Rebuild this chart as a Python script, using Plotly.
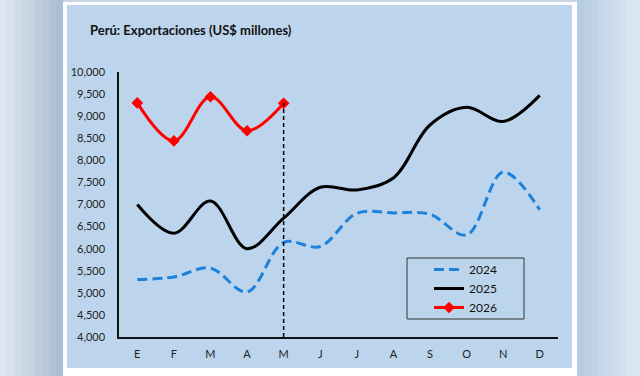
import plotly.graph_objects as go

months = ["E", "F", "M", "A", "M", "J", "J", "A", "S", "O", "N", "D"]
exp_2024 = [5300, 5360, 5560, 5020, 6140, 6050, 6800, 6810, 6780, 6310, 7730, 6880]
exp_2025 = [7000, 6350, 7080, 6000, 6690, 7390, 7330, 7600, 8800, 9200, 8880, 9470]
exp_2026 = [9300, 8440, 9440, 8670, 9290]
y_ticks = list(range(4000, 10001, 500))
y_tick_labels = [f"{v:,}" for v in y_ticks]
title_text = "Perú: Exportaciones (US$ millones)"

xs = list(range(len(months)))
FONT = "Lato"

# plot area in pixels
L, R, T, B = 119, 558, 72, 337
W, H = R - L, B - T


def px(x):
    return (x - L) / W


def py(y):
    return (B - y) / H


def mix(c1, c2, t):
    a = [int(c1[i:i + 2], 16) for i in (1, 3, 5)]
    b = [int(c2[i:i + 2], 16) for i in (1, 3, 5)]
    return "#" + "".join(f"{round(a[k] + (b[k] - a[k]) * t):02X}" for k in range(3))


fig = go.Figure()
fig.add_trace(go.Scatter(
    x=xs, y=exp_2024, name="2024", mode="lines",
    line=dict(color="#1E82DA", width=3, dash="10px,5px", shape="spline", smoothing=1),
))
fig.add_trace(go.Scatter(
    x=xs, y=exp_2025, name="2025", mode="lines",
    line=dict(color="#000000", width=3, shape="spline", smoothing=1),
))
fig.add_trace(go.Scatter(
    x=xs[:len(exp_2026)], y=exp_2026, name="2026", mode="lines+markers",
    line=dict(color="#FF0000", width=3, shape="spline", smoothing=1),
    marker=dict(symbol="diamond", size=9, color="#FF0000"),
))
last = len(exp_2026) - 1
fig.add_trace(go.Scatter(
    x=[xs[last], xs[last]], y=[y_ticks[0], exp_2026[last]], mode="lines",
    line=dict(color="#000000", width=1.5, dash="4px,3px"), showlegend=False, hoverinfo="skip",
))

shapes = []
# outer blurred background gradient strips
n = 9
for i in range(n):
    x0 = 63 * i / n
    x1 = 63 * (i + 1) / n + 0.5
    shapes.append(dict(type="rect", xref="paper", yref="paper", x0=px(x0), x1=px(x1),
                       y0=py(376), y1=py(0), fillcolor=mix("#DFE8F1", "#A8BCD2", (i + 0.5) / n),
                       line_width=0, layer="below"))
for i in range(n):
    x0 = 577 + 63 * i / n
    x1 = 577 + 63 * (i + 1) / n + 0.5
    shapes.append(dict(type="rect", xref="paper", yref="paper", x0=px(x0), x1=px(x1),
                       y0=py(376), y1=py(0), fillcolor=mix("#B2CAE2", "#E0E9F3", (i + 0.5) / n),
                       line_width=0, layer="below"))
# white frame
shapes.append(dict(type="rect", xref="paper", yref="paper", x0=px(63), x1=px(577),
                   y0=py(376), y1=py(2), fillcolor="#FFFFFF", line_width=0, layer="below"))
# light blue panel
shapes.append(dict(type="rect", xref="paper", yref="paper", x0=px(67), x1=px(572),
                   y0=py(368), y1=py(5), fillcolor="#BDD5EC", line_width=0, layer="below"))
# legend box
shapes.append(dict(type="rect", xref="paper", yref="paper", x0=px(407), x1=px(524),
                   y0=py(319), y1=py(258), fillcolor="rgba(0,0,0,0)",
                   line=dict(color="#333333", width=1)))

fig.update_layout(
    width=640, height=376,
    margin=dict(l=L, r=640 - R, t=T, b=376 - B),
    paper_bgcolor="#C8D6E4",
    plot_bgcolor="rgba(0,0,0,0)",
    shapes=shapes,
    showlegend=True,
    legend=dict(
        x=px(429), y=py(255), xanchor="left", yanchor="top",
        bgcolor="rgba(0,0,0,0)", borderwidth=0,
        font=dict(family=FONT, size=12, color="#111111"),
        tracegroupgap=0, itemwidth=30,
    ),
    annotations=[dict(
        text=f"<b>{title_text}</b>", xref="paper", yref="paper",
        x=px(88), y=py(30), xanchor="left", yanchor="middle", showarrow=False,
        font=dict(family=FONT, size=13, color="#111111"),
    )],
    xaxis=dict(
        range=[-0.5, len(months) - 0.5], tickmode="array", tickvals=xs, ticktext=months,
        showgrid=False, zeroline=False, showline=True, linecolor="#111111", linewidth=1.5,
        ticks="", tickfont=dict(family=FONT, size=11, color="#222222"), ticklabelstandoff=6,
        fixedrange=True,
    ),
    yaxis=dict(
        range=[y_ticks[0], y_ticks[-1]], tickmode="array", tickvals=y_ticks, ticktext=y_tick_labels,
        showgrid=False, zeroline=False, showline=True, linecolor="#111111", linewidth=1.5,
        ticks="", tickfont=dict(family=FONT, size=11, color="#222222"), ticklabelstandoff=10,
        fixedrange=True,
    ),
)

fig.write_html("out.html")
